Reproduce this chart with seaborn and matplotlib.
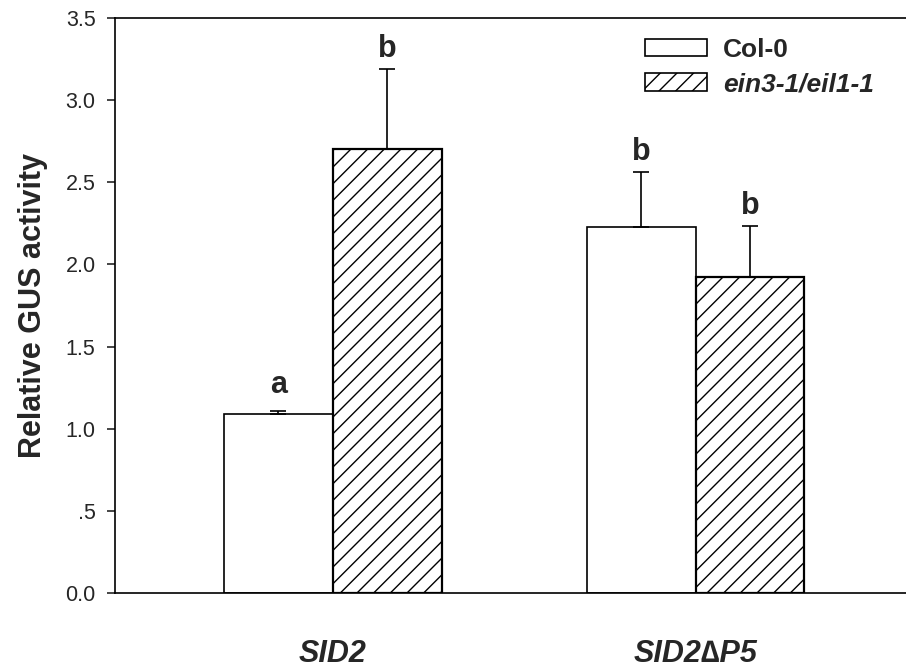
import numpy as np
import pandas as pd
import seaborn as sns
import matplotlib.pyplot as plt
from matplotlib.patches import Patch

# data
promoters = ["SID2", "SID2\u2206P5"]
genotypes = ["Col-0", "ein3-1/eil1-1"]
col0_mean = [1.09, 2.23]
col0_err = [0.015, 0.335]
ein3_mean = [2.70, 1.925]
ein3_err = [0.49, 0.31]
letters_col0 = ["a", "b"]
letters_ein3 = ["b", "b"]
y_ticks = [0.0, 0.5, 1.0, 1.5, 2.0, 2.5, 3.0, 3.5]
y_tick_labels = ["0.0", ".5", "1.0", "1.5", "2.0", "2.5", "3.0", "3.5"]

df = pd.DataFrame({
    "promoter": promoters * 2,
    "genotype": [genotypes[0]] * 2 + [genotypes[1]] * 2,
    "gus": col0_mean + ein3_mean,
    "err": col0_err + ein3_err,
    "letter": letters_col0 + letters_ein3,
})

sns.set_theme(style="ticks")
plt.rcParams["font.family"] = ["Liberation Sans", "DejaVu Sans"]
plt.rcParams["hatch.linewidth"] = 1.0

fig = plt.figure(figsize=(9.06, 6.71), dpi=100)
ax = fig.add_axes([0.1269, 0.1162, 0.8731, 0.8570])

sns.barplot(data=df, x="promoter", y="gus", hue="genotype", order=promoters,
            hue_order=genotypes, palette=["white", "white"], width=0.6,
            errorbar=None, edgecolor="black", linewidth=1.2, legend=False, ax=ax)

# seaborn stores bars hue by hue, same order as df rows
bars = ax.patches[:len(df)]
for bar, geno in zip(bars, df["genotype"]):
    if geno == genotypes[1]:
        bar.set_hatch("//")
        bar.set_linewidth(1.6)

xs = [b.get_x() + b.get_width() / 2 for b in bars]
ax.errorbar(xs, df["gus"], yerr=[np.zeros(len(df)), df["err"]], fmt="none",
            ecolor="black", elinewidth=1.2, capsize=6, capthick=1.2, zorder=3)

for x, m, e, lab in zip(xs, df["gus"], df["err"], df["letter"]):
    off = 0.11 if lab == "a" else 0.07
    ax.text(x, m + e + off, lab, ha="center", va="baseline",
            fontsize=22, fontweight="bold")

ax.set_ylim(0, 3.5)
ax.set_xlim(-0.6, 1.58)
ax.set_yticks(y_ticks)
ax.set_yticklabels(y_tick_labels, fontsize=15.5)
ax.set_xticks(range(len(promoters)))
ax.set_xticklabels(promoters, fontsize=22, fontweight="bold", fontstyle="italic")
ax.tick_params(axis="x", length=0, pad=33)
ax.tick_params(axis="y", length=6, width=1.2, pad=8, direction="out")
ax.set_xlabel("")
ax.set_ylabel("Relative GUS activity", fontsize=22, fontweight="bold")
ax.yaxis.set_label_coords(-0.085, 0.5)

for side in ["left", "bottom", "top"]:
    ax.spines[side].set_linewidth(1.2)
    ax.spines[side].set_color("black")
ax.spines["right"].set_visible(False)

handles = [Patch(facecolor="white", edgecolor="black", linewidth=1.2),
           Patch(facecolor="white", edgecolor="black", linewidth=1.2, hatch="//")]
leg = ax.legend(handles, genotypes, loc="upper left", bbox_to_anchor=(0.670, 0.966),
                frameon=False, borderpad=0, borderaxespad=0, handlelength=2.35,
                handleheight=0.64, handletextpad=0.6, labelspacing=0.4,
                prop={"size": 19, "weight": "bold"})
leg.get_texts()[1].set_fontstyle("italic")

fig.savefig("out.png", dpi=100)
